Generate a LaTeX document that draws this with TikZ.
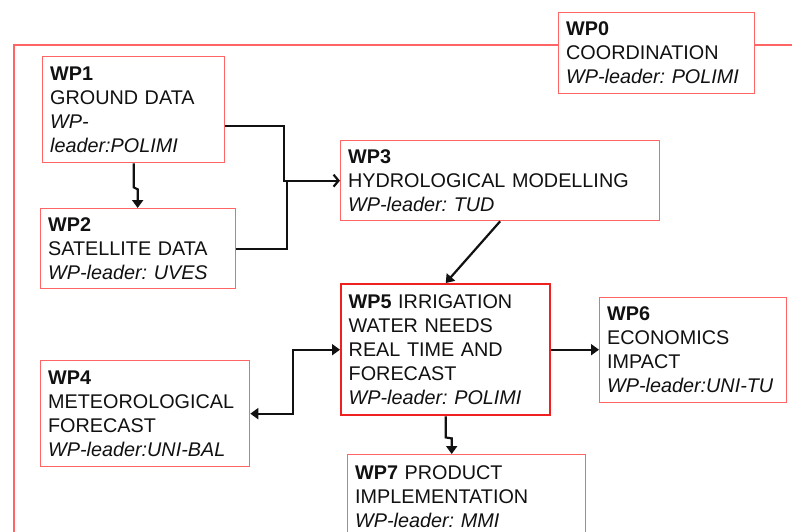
\documentclass[tikz,border=0pt]{standalone}
\usepackage{fontspec}
\setmainfont{Liberation Sans}
\usetikzlibrary{arrows.meta}
\definecolor{wpred}{HTML}{FF6565}
\definecolor{wpstrong}{HTML}{EE2020}
\definecolor{ink}{HTML}{111111}
\frenchspacing

\begin{document}
\begin{tikzpicture}[x=1pt,y=-1pt,
  wpbox/.style={draw=wpred, line width=1.3pt, fill=white, align=left,
    anchor=north west, inner xsep=7.5pt, inner ysep=0pt, text=ink,
    font=\fontsize{19.8}{24}\selectfont},
  link/.style={draw=ink, line width=2.2pt, line join=miter},
  tip/.style={-{Triangle[length=8pt,width=11pt]}},
  twotips/.style={{Triangle[length=8pt,width=11pt]}-{Triangle[length=8pt,width=11pt]}},
  barb/.style={-{Straight Barb[length=5pt,width=12pt,line width=2.2pt]}},
]
\useasboundingbox (0,0) rectangle (792,531);
\clip (0,0) rectangle (792,531);

% outer frame of the project
\draw[wpred, line width=1.3pt] (14,45) rectangle (830,580);

% work packages
\node[wpbox, text width=181pt, minimum height=81pt] (wp0) at (558,12)
  {\textbf{WP0}\\COORDINATION\\\textit{WP-leader: POLIMI}};
\node[wpbox, text width=167pt, minimum height=106pt] (wp1) at (42,56)
  {\textbf{WP1}\\GROUND DATA\\\textit{WP-}\\\textit{leader:POLIMI}};
\node[wpbox, text width=180pt, minimum height=80pt] (wp2) at (40,208)
  {\textbf{WP2}\\SATELLITE DATA\\\textit{WP-leader: UVES}};
\node[wpbox, text width=304pt, minimum height=80pt] (wp3) at (340,140)
  {\textbf{WP3}\\HYDROLOGICAL MODELLING\\\textit{WP-leader: TUD}};
\node[wpbox, text width=194pt, minimum height=106pt] (wp4) at (40,360)
  {\textbf{WP4}\\METEOROLOGICAL\\FORECAST\\\textit{WP-leader:UNI-BAL}};
\node[wpbox, draw=wpstrong, line width=2.4pt, text width=194pt, minimum height=131pt] (wp5) at (340,283)
  {\textbf{WP5} IRRIGATION\\WATER NEEDS\\REAL TIME AND\\FORECAST\\\textit{WP-leader: POLIMI}};
\node[wpbox, text width=172pt, minimum height=105pt] (wp6) at (599,297)
  {\textbf{WP6}\\ECONOMICS\\IMPACT\\\textit{WP-leader:UNI-TU}};
\node[wpbox, text width=223pt, minimum height=84pt] (wp7) at (347,454)
  {\textbf{WP7} PRODUCT\\IMPLEMENTATION\\\textit{WP-leader: MMI}};

% data flows
\coordinate (join) at (287,180);
\draw[link, barb] ([yshift=-16pt]wp1.east) -- ++(59,0) |- (wp3.west);
\draw[link] (wp2.east) -| (join);
\draw[link, tip] (wp1.south) -- ++(0,24) -- ++(4,2) coordinate (j) -- (j |- wp2.north);
\draw[link, tip] (wp3.south) -- (wp5.north);
\draw[link, twotips] (wp4.east) -- ++(43,0) |- (wp5.west);
\draw[link, tip] (wp5.east) -- (wp5.east -| wp6.west);
\draw[link, tip] (wp5.south) -- ++(0,21) -- ++(6,1) coordinate (k) -- (k |- wp7.north);
\end{tikzpicture}
\end{document}
